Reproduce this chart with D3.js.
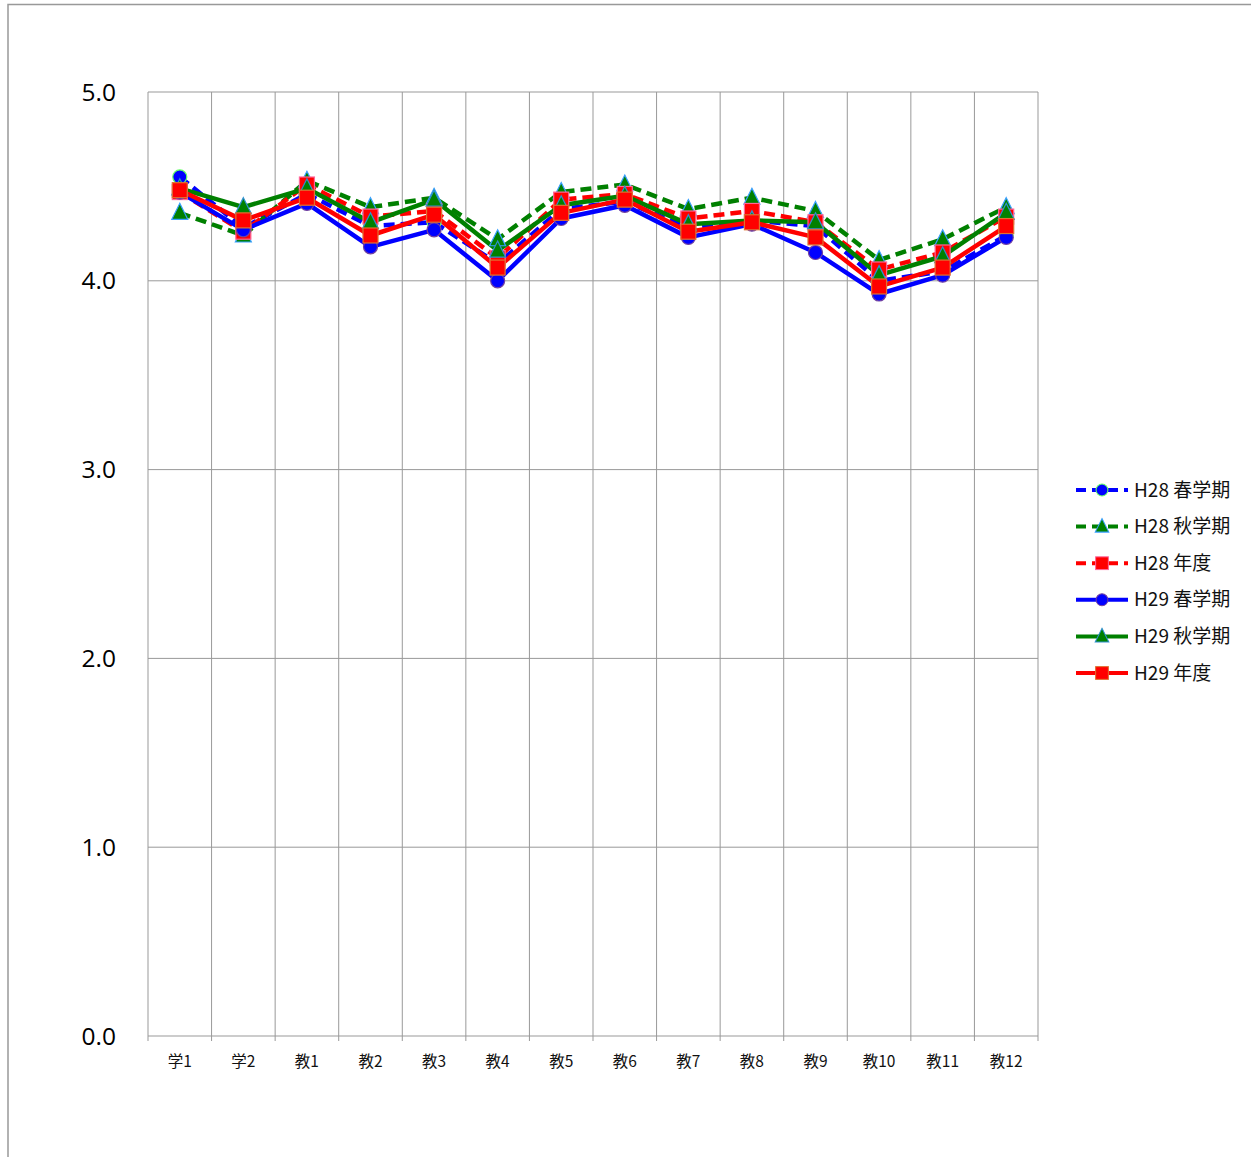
<!DOCTYPE html>
<html><head><meta charset="utf-8">
<script src="https://cdn.jsdelivr.net/npm/d3@7"></script>
<style>body{margin:0;background:#fff}</style>
</head><body>
<svg id="c" width="1251" height="1157"></svg>
<script>
const categories = ["学1","学2","教1","教2","教3","教4","教5","教6","教7","教8","教9","教10","教11","教12"];
const h28Spring = [4.55,4.28,4.46,4.29,4.31,4.09,4.38,4.42,4.28,4.32,4.29,4.00,4.05,4.24];
const h28Autumn = [4.36,4.24,4.53,4.39,4.44,4.22,4.47,4.51,4.38,4.44,4.37,4.11,4.22,4.39];
const h28Year   = [4.47,4.26,4.51,4.34,4.37,4.12,4.43,4.46,4.33,4.37,4.31,4.06,4.15,4.34];
const h29Spring = [4.47,4.27,4.41,4.18,4.27,4.00,4.33,4.40,4.23,4.30,4.15,3.93,4.03,4.23];
const h29Autumn = [4.49,4.39,4.49,4.31,4.43,4.16,4.40,4.45,4.30,4.32,4.31,4.03,4.13,4.36];
const h29Year   = [4.48,4.32,4.44,4.24,4.35,4.07,4.36,4.43,4.26,4.31,4.23,3.97,4.07,4.29];
const seriesNames = ["H28 春学期","H28 秋学期","H28 年度","H29 春学期","H29 秋学期","H29 年度"];
const yTicks = [0,1,2,3,4,5];

const seriesDefs = [
  {name:seriesNames[0], values:h28Spring, color:"#0000ff", dash:"11,6", shape:"circle",   mstroke:"#66ff66"},
  {name:seriesNames[1], values:h28Autumn, color:"#008000", dash:"11,6", shape:"triangle", mstroke:"#3aa0ff"},
  {name:seriesNames[2], values:h28Year,   color:"#ff0000", dash:"11,6", shape:"square",   mstroke:"#ff6699"},
  {name:seriesNames[3], values:h29Spring, color:"#0000ff", dash:null,   shape:"circle",   mstroke:"#7040a0"},
  {name:seriesNames[4], values:h29Autumn, color:"#008000", dash:null,   shape:"triangle", mstroke:"#3090d0"},
  {name:seriesNames[5], values:h29Year,   color:"#ff0000", dash:null,   shape:"square",   mstroke:"#e07030"}
];

const svg = d3.select("#c");
svg.append("rect").attr("x",8).attr("y",4.5).attr("width",1400).attr("height",1300)
  .attr("fill","none").attr("stroke","#999").attr("stroke-width",1.5);

const L=148, R=1038, T=92, B=1036;
const x = d3.scaleBand().domain(categories).range([L,R]);
const y = d3.scaleLinear().domain([0,5]).range([B,T]);
const g = svg.append("g");

g.selectAll("line.h").data(yTicks).join("line")
  .attr("x1",L).attr("x2",R).attr("y1",d=>y(d)).attr("y2",d=>y(d))
  .attr("stroke","#999").attr("stroke-width",1);
const bounds = categories.map(c=>x(c)).concat([R]);
g.selectAll("line.v").data(bounds).join("line")
  .attr("x1",d=>d).attr("x2",d=>d).attr("y1",T).attr("y2",B+5)
  .attr("stroke","#999").attr("stroke-width",1);

g.selectAll("text.y").data(yTicks).join("text")
  .attr("x",116).attr("y",d=>y(d)+8.5).attr("text-anchor","end")
  .attr("font-family","'Open Sans', sans-serif").attr("font-size",24.5).attr("fill","#000")
  .text(d=>d.toFixed(1));
g.selectAll("text.x").data(categories).join("text")
  .attr("x",d=>x(d)+x.bandwidth()/2).attr("y",1067).attr("text-anchor","middle")
  .attr("font-family","'Noto Sans CJK JP', sans-serif").attr("font-size",15.5).attr("fill","#111")
  .text(d=>d);

const line = d3.line().x((d,i)=>x(categories[i])+x.bandwidth()/2).y(d=>y(d));

function marker(sel, shape, color, stroke){
  if(shape==="circle"){
    sel.append("circle").attr("r",7).attr("fill",color).attr("stroke",stroke).attr("stroke-width",1.2);
  } else if(shape==="square"){
    sel.append("rect").attr("x",-7.5).attr("y",-7.5).attr("width",15).attr("height",15)
      .attr("fill",color).attr("stroke",stroke).attr("stroke-width",1.2);
  } else {
    sel.append("path").attr("d","M0,-9.5L8,6.5L-8,6.5Z").attr("fill",color).attr("stroke",stroke).attr("stroke-width",1.2);
  }
}

seriesDefs.forEach(s=>{
  g.append("path").datum(s.values).attr("d",line).attr("fill","none")
    .attr("stroke",s.color).attr("stroke-width",4.5).attr("stroke-linejoin","round")
    .attr("stroke-dasharray",s.dash);
});
seriesDefs.forEach(s=>{
  s.values.forEach((v,i)=>{
    const m = g.append("g").attr("transform",`translate(${x(categories[i])+x.bandwidth()/2},${y(v)})`);
    marker(m, s.shape, s.color, s.mstroke);
  });
});

const lg = svg.append("g");
seriesDefs.forEach((s,i)=>{
  const ly = 490 + i*36.6;
  lg.append("line").attr("x1",1076).attr("x2",1128).attr("y1",ly).attr("y2",ly)
    .attr("stroke",s.color).attr("stroke-width",4).attr("stroke-dasharray",s.dash?"10,6":null);
  const m = lg.append("g");
  marker(m, s.shape, s.color, s.mstroke);
  m.attr("transform",`translate(1102,${ly}) scale(0.85)`);
  lg.append("text").attr("x",1134).attr("y",ly+6.5).attr("font-family","'Noto Sans CJK JP', sans-serif")
    .attr("font-size",19).attr("fill","#111").text(s.name);
});
</script>
</body></html>
